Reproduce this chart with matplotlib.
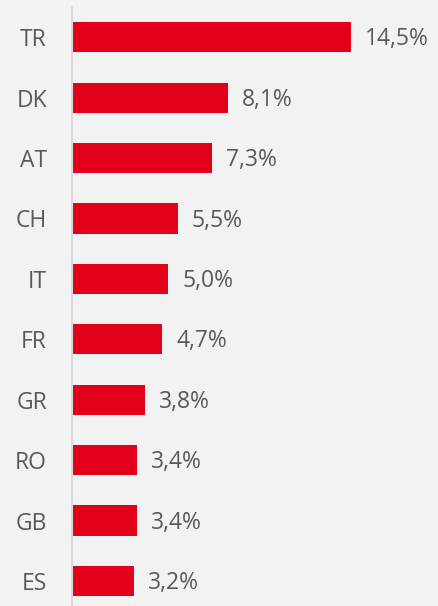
import matplotlib.pyplot as plt
import matplotlib

matplotlib.rcParams['font.family'] = ['Open Sans', 'DejaVu Sans']

# Daten
laender = ['TR', 'DK', 'AT', 'CH', 'IT', 'FR', 'GR', 'RO', 'GB', 'ES']
anteile = [14.5, 8.1, 7.3, 5.5, 5.0, 4.7, 3.8, 3.4, 3.4, 3.2]
beschriftung = ['14,5%', '8,1%', '7,3%', '5,5%', '5,0%', '4,7%', '3,8%', '3,4%', '3,4%', '3,2%']

bg = '#f2f2f2'
rot = '#e2001a'
grau = '#595959'

fig = plt.figure(figsize=(4.39, 6.06), dpi=100, facecolor=bg)
ax = fig.add_axes([72 / 439, 0, 1 - 72 / 439, 1 - 7 / 606], facecolor=bg)

pos = list(range(len(laender)))
ax.barh(pos, anteile, height=0.5, color=rot)
ax.set_ylim(9 + 25 / 60.4, -0.5)
ax.set_xlim(0, (439 - 72) / 19.24)

for p, v, t in zip(pos, anteile, beschriftung):
    ax.annotate(t, (v, p), xytext=(10, -1.5), textcoords='offset points',
                va='center', ha='left', fontsize=16.5, color=grau)

ax.set_yticks(pos)
ax.set_yticklabels(laender, fontsize=16.5, color=grau)
ax.tick_params(axis='y', length=0, pad=18)
ax.set_xticks([])
for s in ['top', 'right', 'bottom']:
    ax.spines[s].set_visible(False)
ax.spines['left'].set_color('#d9d9d9')
ax.spines['left'].set_linewidth(1.5)

plt.savefig('out.png', facecolor=bg)
